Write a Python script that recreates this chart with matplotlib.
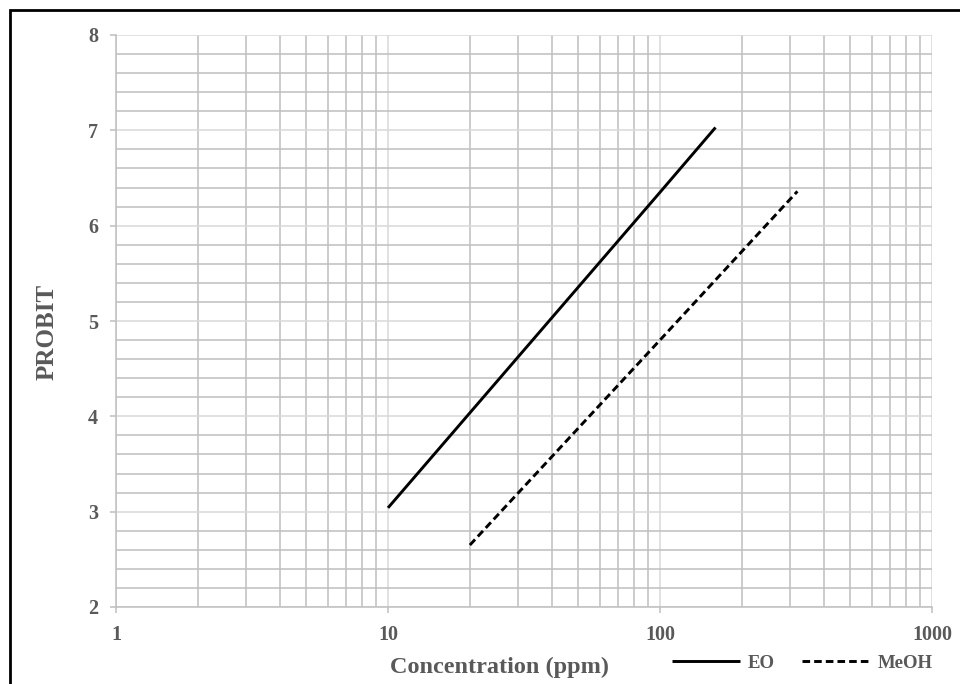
import matplotlib
matplotlib.use('Agg')
import matplotlib.pyplot as plt
from matplotlib.patches import Rectangle
from matplotlib.ticker import LogLocator, MultipleLocator, FixedLocator
import numpy as np

plt.rcParams['font.family'] = ['Liberation Serif', 'DejaVu Serif']
plt.rcParams['font.weight'] = 'bold'

# valeurs
eo_conc = [10, 100, 160]
eo_probit = [3.04, 6.35, 7.03]
meoh_conc = [20, 100, 320]
meoh_probit = [2.65, 4.80, 6.36]

x_ticks = [1, 10, 100, 1000]
x_labels = ['1', '10', '100', '1000']
y_ticks = [2, 3, 4, 5, 6, 7, 8]

gris_texte = '#595959'
gris_major = '#d9d9d9'
gris_minor = '#bfbfbf'

fig = plt.figure(figsize=(9.6, 6.84), dpi=100)
ax = fig.add_axes([116/960, 1 - 607/684, (932-116)/960, (607-35)/684])

ax.plot(eo_conc, eo_probit, color='black', lw=2.1, label='EO', solid_capstyle='butt')
ax.plot(meoh_conc, meoh_probit, color='black', lw=2.1, ls=(0, (2.6, 1.4)), label='MeOH')

ax.set_xscale('log')
ax.set_xlim(1, 1000)
ax.set_ylim(2, 8)
ax.xaxis.set_major_locator(FixedLocator(x_ticks))
ax.set_xticklabels(x_labels)
ax.xaxis.set_minor_locator(LogLocator(base=10, subs=np.arange(2, 10)))
ax.xaxis.set_minor_formatter(plt.NullFormatter())
ax.yaxis.set_major_locator(FixedLocator(y_ticks))
ax.yaxis.set_minor_locator(MultipleLocator(0.2))

ax.grid(which='major', color=gris_major, lw=1.1, zorder=0)
ax.grid(which='minor', color=gris_minor, lw=1.1, zorder=0)
ax.set_axisbelow(True)

for s in ['top', 'right']:
    ax.spines[s].set_visible(False)
for s in ['left', 'bottom']:
    ax.spines[s].set_color(gris_minor)
    ax.spines[s].set_linewidth(1.1)

ax.tick_params(which='major', length=4.5, width=1.1, color=gris_minor,
               labelsize=14.5, labelcolor=gris_texte)
ax.tick_params(axis='y', which='major', pad=8.5)
ax.tick_params(axis='x', which='major', pad=8.5)
ax.tick_params(which='minor', length=0)
for lab in ax.get_xticklabels() + ax.get_yticklabels():
    lab.set_fontweight('bold')

fig.text(47/960, 1 - 332/684, 'PROBIT', rotation=90, ha='center', va='center',
         fontsize=18, fontweight='bold', color=gris_texte)
fig.text(499/960, 1 - 667/684, 'Concentration (ppm)', ha='center', va='center',
         fontsize=17.5, fontweight='bold', color=gris_texte)

leg = ax.legend(loc='center left', bbox_to_anchor=(672/960, 1 - 663/684),
                bbox_transform=fig.transFigure, ncol=2, frameon=False,
                fontsize=13.5, handlelength=3.6, handletextpad=0.45,
                columnspacing=1.45, borderpad=0, borderaxespad=0)
for t in leg.get_texts():
    t.set_color(gris_texte)
    t.set_fontweight('bold')

# cadre autour de la figure
fig.patches.append(Rectangle((10/960, -0.05), 1.2, 1 - 10/684 + 0.05,
                             transform=fig.transFigure, fill=False,
                             edgecolor='black', lw=2.0))

fig.savefig('out.png', dpi=100)
